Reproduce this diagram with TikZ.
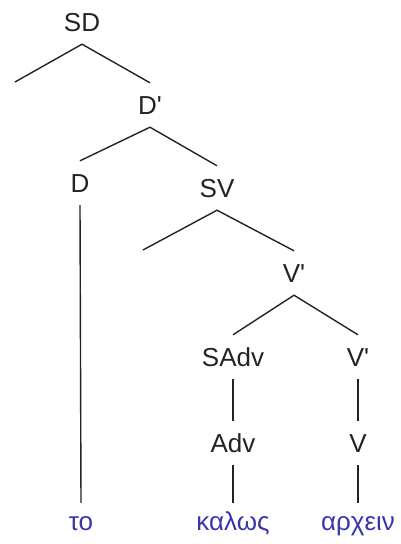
\documentclass[tikz,border=0pt]{standalone}
\usepackage{fontspec}
\setmainfont{Liberation Sans}
\usetikzlibrary{positioning}
\definecolor{treeink}{RGB}{35,35,35}
\definecolor{wordblue}{RGB}{55,55,170}
\newcommand{\pr}{\textquotesingle}

\begin{document}
\begin{tikzpicture}[x=1pt,y=-1pt,
    cat/.style={font=\fontsize{26}{26}\selectfont, text=treeink, inner sep=0pt,
                minimum height=44pt, text height=18pt, text depth=0pt},
    word/.style={cat, text=wordblue, minimum height=36pt},
    branch/.style={line width=1.4pt, draw=treeink}]
    \useasboundingbox (0,0) rectangle (401,544);
    % categories
    \node[cat] (sd)    at (82,22)   {SD};
    \node[cat] (dbar)  at (150,105) {D\pr};
    \node[cat] (d)     at (80,183)  {D};
    \node[cat] (sv)    at (217,188) {SV};
    \node[cat] (vbar)  at (294,273) {V\pr};
    \node[cat] (sadv)  at (233,357) {SAdv};
    \node[cat] (vbarb) at (358,357) {V\pr};
    \node[cat] (adv)   at (233,443) {Adv};
    \node[cat] (v)     at (358,443) {V};
    % words
    \node[word] (to)     at (81,521)  {το};
    \node[word] (kalos)  at (233,521) {καλως};
    \node[word] (arxein) at (358,521) {αρχειν};
    % empty specifiers
    \coordinate (sdspec) at (15,82);
    \coordinate (svspec) at (143,250);
    % branches
    \draw[branch] (sdspec) -- (sd.south) -- (dbar.north);
    \draw[branch] (d.north) -- (dbar.south) -- (sv.north);
    \draw[branch] (svspec) -- (sv.south) -- (vbar.north);
    \draw[branch] (sadv.north) -- (vbar.south) -- (vbarb.north);
    \draw[branch] (d.south) -- (to.north);
    \draw[branch] (sadv.south) -- (adv.north);
    \draw[branch] (adv.south) -- (kalos.north);
    \draw[branch] (vbarb.south) -- (v.north);
    \draw[branch] (v.south) -- (arxein.north);
\end{tikzpicture}
\end{document}
